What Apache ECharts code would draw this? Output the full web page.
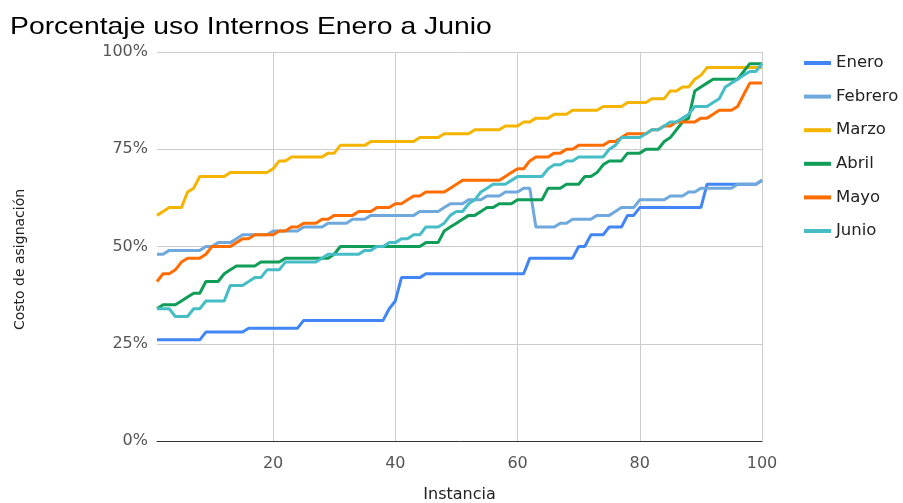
<!DOCTYPE html>
<html>
<head>
<meta charset="utf-8">
<script src="https://cdn.jsdelivr.net/npm/echarts@6/dist/echarts.min.js"></script>
<style>
  html, body { margin: 0; padding: 0; background: #fff; }
  #chart { width: 903px; height: 503px; }
</style>
</head>
<body>
<div id="chart"></div>
<script>
// Instance numbers on the horizontal axis (1..100)
const instancias = Array.from({ length: 100 }, (_, i) => String(i + 1));

// Assignment cost (%) per instance, one array per month
const enero = [26,26,26,26,26,26,26,26,28,28,28,28,28,28,28,29,29,29,29,29,29,29,29,29,
  31,31,31,31,31,31,31,31,31,31,31,31,31,31,34,36,42,42,42,42,43,43,43,43,43,43,43,43,43,43,
  43,43,43,43,43,43,43,47,47,47,47,47,47,47,47,50,50,53,53,53,55,55,55,58,58,60,60,60,60,60,
  60,60,60,60,60,60,66,66,66,66,66,66,66,66,66,67];
const febrero = [48,48,49,49,49,49,49,49,50,50,51,51,51,52,53,53,53,53,53,54,54,54,54,54,
  55,55,55,55,56,56,56,56,57,57,57,58,58,58,58,58,58,58,58,59,59,59,59,60,61,61,61,62,62,62,
  63,63,63,64,64,64,65,65,55,55,55,55,56,56,57,57,57,57,58,58,58,59,60,60,60,62,62,62,62,62,
  63,63,63,64,64,65,65,65,65,65,65,66,66,66,66,67];
const marzo = [58,59,60,60,60,64,65,68,68,68,68,68,69,69,69,69,69,69,69,70,72,72,73,73,73,
  73,73,73,74,74,76,76,76,76,76,77,77,77,77,77,77,77,77,78,78,78,78,79,79,79,79,79,80,80,80,
  80,80,81,81,81,82,82,83,83,83,84,84,84,85,85,85,85,85,86,86,86,86,87,87,87,87,88,88,88,90,
  90,91,91,93,94,96,96,96,96,96,96,96,96,96,96];
const abril = [34,35,35,35,36,37,38,38,41,41,41,43,44,45,45,45,45,46,46,46,46,47,47,47,47,
  47,47,47,47,48,50,50,50,50,50,50,50,50,50,50,50,50,50,50,51,51,51,54,55,56,57,58,58,59,60,
  60,61,61,61,62,62,62,62,62,65,65,65,66,66,66,68,68,69,71,72,72,72,74,74,74,75,75,75,77,78,
  80,82,83,90,91,92,93,93,93,93,93,95,97,97,97];
const mayo = [41,43,43,44,46,47,47,47,48,50,50,50,50,51,52,52,53,53,53,53,54,54,55,55,56,
  56,56,57,57,58,58,58,58,59,59,59,60,60,60,61,61,62,63,63,64,64,64,64,65,66,67,67,67,67,67,
  67,67,68,69,70,70,72,73,73,73,74,74,75,75,76,76,76,76,76,77,77,78,79,79,79,79,80,80,81,81,
  82,82,82,82,83,83,84,85,85,85,86,89,92,92,92];
const junio = [34,34,34,32,32,32,34,34,36,36,36,36,40,40,40,41,42,42,44,44,44,46,46,46,46,
  46,46,47,48,48,48,48,48,48,49,49,50,50,51,51,52,52,53,53,55,55,55,56,58,59,59,61,62,64,65,
  66,66,66,67,68,68,68,68,68,70,71,71,72,72,73,73,73,73,73,75,76,78,78,78,78,79,80,80,81,82,
  82,83,84,86,86,86,87,88,91,92,93,94,95,95,97];

// Y axis tick values
const yTicks = [0, 25, 50, 75, 100];

const meses = [
  { name: 'Enero',   data: enero,   color: '#4285f4' },
  { name: 'Febrero', data: febrero, color: '#6fa8dc' },
  { name: 'Marzo',   data: marzo,   color: '#f4b400' },
  { name: 'Abril',   data: abril,   color: '#0f9d58' },
  { name: 'Mayo',    data: mayo,    color: '#ff6d00' },
  { name: 'Junio',   data: junio,   color: '#46bdc6' }
];

const FONT = 'DejaVu Sans';
const everyTwenty = (index) => (index + 1) % 20 === 0;

const chart = echarts.init(document.getElementById('chart'), null, { renderer: 'canvas' });
chart.setOption({
  backgroundColor: '#ffffff',
  animation: false,
  graphic: [{
    type: 'text',
    x: 10,
    y: 27.5,
    scaleX: 1.18,
    style: {
      text: 'Porcentaje uso Internos Enero a Junio',
      fontFamily: 'Liberation Sans',
      fontSize: 24,
      fill: '#000000',
      verticalAlign: 'middle'
    }
  }],
  grid: {
    left: 157, right: 141, top: 52, bottom: 62,
    containLabel: false,
    outerBoundsMode: 'none'
  },
  legend: {
    orient: 'vertical',
    left: 804,
    top: 53,
    padding: 0,
    icon: 'rect',
    itemWidth: 27,
    itemHeight: 4,
    itemGap: 13.6,
    textStyle: { fontFamily: FONT, fontSize: 16.5, color: '#222222', lineHeight: 20 },
    data: meses.map(m => m.name)
  },
  xAxis: {
    type: 'category',
    data: instancias,
    boundaryGap: false,
    name: 'Instancia',
    nameLocation: 'middle',
    nameGap: 46,
    nameTextStyle: { fontFamily: FONT, fontSize: 16, color: '#222222' },
    axisLine: { show: true, lineStyle: { color: '#333333', width: 1 } },
    axisTick: { show: false },
    axisLabel: {
      interval: everyTwenty,
      fontFamily: FONT, fontSize: 16, color: '#555555', margin: 15
    },
    splitLine: {
      show: true,
      interval: everyTwenty,
      lineStyle: { color: '#cccccc', width: 1 }
    }
  },
  yAxis: {
    type: 'value',
    min: yTicks[0],
    max: yTicks[yTicks.length - 1],
    interval: yTicks[1] - yTicks[0],
    name: 'Costo de asignación',
    nameLocation: 'middle',
    nameGap: 130,
    nameTextStyle: {
      fontFamily: FONT, fontSize: 14, color: '#222222',
      padding: [0, 26, 0, 0]
    },
    axisLine: { show: false },
    axisTick: { show: false },
    axisLabel: {
      formatter: '{value}%',
      fontFamily: FONT, fontSize: 16, color: '#555555', margin: 9
    },
    splitLine: { show: true, lineStyle: { color: '#cccccc', width: 1 } }
  },
  series: meses.map(m => ({
    name: m.name,
    type: 'line',
    data: m.data,
    showSymbol: false,
    symbol: 'none',
    color: m.color,
    lineStyle: { width: 3, color: m.color },
    emphasis: { disabled: true }
  }))
});
</script>
</body>
</html>
